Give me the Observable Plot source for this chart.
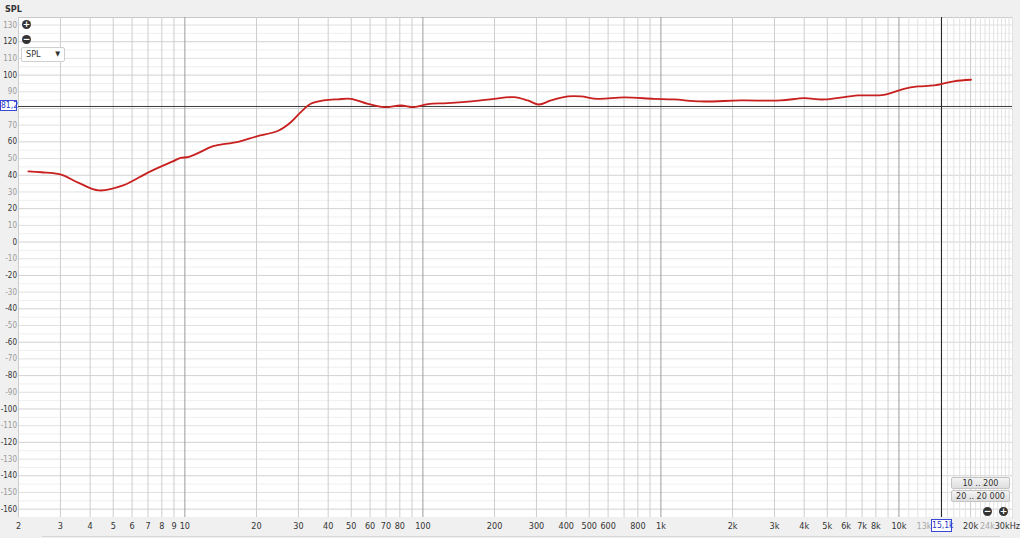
<!DOCTYPE html>
<html><head><meta charset="utf-8">
<script src="https://cdn.jsdelivr.net/npm/d3@7"></script>
<script src="https://cdn.jsdelivr.net/npm/@observablehq/plot@0.6"></script>
<style>
html,body{margin:0;padding:0;background:#f0f0f0;}
#wrap{position:relative;width:1020px;height:538px;overflow:hidden;font-family:"Liberation Sans Narrow","DejaVu Sans Condensed","Noto Sans",sans-serif;color:#333;}
#wrap svg{position:absolute;left:0;top:0;}
.ov{position:absolute;box-sizing:border-box;}
.title{left:5px;top:4px;font-size:9px;font-weight:bold;color:#333;}
.icon{width:9px;height:9px;border-radius:50%;background:#333;color:#fff;font:bold 9px/9px "DejaVu Sans",sans-serif;text-align:center;}
.dd{left:21px;top:47px;width:44px;height:15px;background:#fff;border:1px solid #cfcfcf;border-radius:2px;font-size:9px;line-height:13px;padding-left:4px;}
.dd span{position:absolute;right:4px;top:0;font-size:7px;}
.btn{left:951px;width:59px;height:12px;background:linear-gradient(#f4f4f4,#dedede);border:1px solid #c4c4c4;border-radius:2px;font-size:9px;line-height:10px;text-align:center;color:#333;}
.cur{border:1px solid #3b47d6;background:#fff;color:#2a36c8;font-size:8.5px;text-align:center;white-space:nowrap;}
</style></head><body><div id="wrap"></div>
<script>
// ---- data ----
const freqHz = [2.2, 2.5, 3.0, 3.6, 4.35, 5.5, 7.06, 8.9, 9.6, 10.4, 12.9, 13.5, 16.9, 19.9, 24.8, 27.8, 30.7, 33.8, 38.4, 44, 49.8, 58.7, 68.6, 80.8, 91.7, 105, 127, 164, 199, 241, 276, 307, 345, 407, 461, 543, 700, 935, 1135, 1473, 2168, 3192, 3990, 4842, 6730, 8650, 10500, 12020, 14030, 17020, 20090];
const splDb  = [42.3, 41.8, 40.5, 35.3, 30.9, 33.9, 41.9, 48.3, 50.4, 51.0, 57.0, 57.8, 60.2, 63.2, 66.8, 71.6, 77.8, 82.8, 84.8, 85.5, 85.8, 82.8, 80.8, 81.8, 80.8, 82.6, 83.2, 84.4, 85.8, 86.8, 84.8, 82.4, 84.8, 87.2, 87.2, 85.8, 86.6, 85.8, 85.4, 84.2, 84.8, 84.8, 86.2, 85.4, 87.8, 88.2, 91.8, 93.2, 93.8, 96.3, 97.2];

const yTicksDark  = [120, 100, 60, 40, 20, 0, -20, -40, -60, -80, -100, -120, -140, -160];
const yTicksLight = [130, 110, 90, 70, 50, 30, 10, -10, -30, -50, -70, -90, -110, -130, -150];
const xTicks      = [2, 3, 4, 5, 6, 7, 8, 9, 10, 20, 30, 40, 50, 60, 70, 80, 100, 200, 300, 400, 500, 600, 800, 1000, 2000, 3000, 4000, 5000, 6000, 7000, 8000, 10000, 20000];
const xTicksGray  = [13000, 24000];
const xTickLast   = [30000];
const xGridDecade = [10, 100, 1000, 10000];
const xGridMinor  = [2,3,4,5,6,7,8,9, 20,30,40,50,60,70,80,90, 200,300,400,500,600,700,800,900, 2000,3000,4000,5000,6000,7000,8000,9000, 20000];
const xGridFine   = [11000,12000,13000,14000,15000,16000,17000,18000,19000,21000,22000,23000,24000,25000,26000,27000,28000,29000,30000];
const yGrid20 = d3.range(-160, 131, 20);
const yGrid10 = d3.range(-150, 131, 20);
const yGrid5  = d3.range(-165, 131, 10);
const cursorLevel = 81.2, cursorLevelLabel = "81,2";
const cursorFreq = 15100, cursorFreqLabel = "15,1k";
const buttonLabels = ["10 .. 200", "20 .. 20 000"];

const data = freqHz.map((f, i) => ({f, spl: splDb[i]}));
const fmt = v => v === 30000 ? "30kHz" : v >= 1000 ? (v / 1000) + "k" : String(v);
const font = '"Liberation Sans Narrow","DejaVu Sans Condensed","Noto Sans",sans-serif';

const yText = (ticks, fill) => Plot.text(ticks, {y: d => d, text: d => String(d), frameAnchor: "left", dx: -1.5, textAnchor: "end", fill, fontSize: 8});
const xText = (ticks, fill, opts = {}) => Plot.text(ticks, {x: d => d, text: fmt, frameAnchor: "bottom", dy: 9, lineAnchor: "middle", fill, fontSize: 9, ...opts});

const chart = Plot.plot({
  width: 1020, height: 538,
  marginTop: 17, marginBottom: 21, marginLeft: 18, marginRight: 8,
  style: {background: "transparent", fontFamily: font, fontSize: "9px", overflow: "visible"},
  x: {type: "log", domain: [2, 30000], axis: null},
  y: {domain: [-165, 134.5], axis: null},
  marks: [
    Plot.frame({fill: "white", stroke: "#c8c8c8"}),
    Plot.ruleY(yGrid5, {stroke: "#efefef"}),
    Plot.ruleY(yGrid10, {stroke: "#e0e0e0"}),
    Plot.ruleY(yGrid20, {stroke: "#d2d2d2"}),
    Plot.ruleX(xGridFine, {stroke: "#e2e2e2"}),
    Plot.ruleX(xGridMinor, {stroke: "#cdcdcd"}),
    Plot.ruleX(xGridDecade, {stroke: "#9c9c9c"}),
    Plot.ruleY([cursorLevel], {stroke: "#3c3c3c"}),
    Plot.ruleX([cursorFreq], {stroke: "#222"}),
    Plot.line(data, {x: "f", y: "spl", stroke: "#c8201e", strokeWidth: 1.8, curve: "catmull-rom"}),
    yText(yTicksDark, "#333"),
    yText(yTicksLight, "#9a9a9a"),
    xText(xTicks, "#333"),
    xText(xTicksGray, "#a8a8a8", {dx: -2}),
    xText(xTickLast, "#333", {textAnchor: "end", dx: 7.5})
  ]
});

const wrap = document.getElementById("wrap");
wrap.appendChild(chart);
const sx = chart.scale("x"), sy = chart.scale("y");

function ov(cls, style, html) {
  const d = document.createElement("div");
  d.className = "ov " + cls;
  Object.assign(d.style, style);
  d.innerHTML = html;
  wrap.appendChild(d);
  return d;
}
ov("title", {}, "SPL");
ov("icon", {left: "22px", top: "20px"}, "+");
ov("icon", {left: "22px", top: "35px"}, "&minus;");
ov("dd", {}, "SPL<span>&#9660;</span>");
ov("btn", {top: "477px"}, buttonLabels[0]);
ov("btn", {top: "490px"}, buttonLabels[1]);
ov("icon", {left: "983px", top: "507px"}, "&minus;");
ov("icon", {left: "999px", top: "507px"}, "+");
const cy = sy.apply(cursorLevel);
ov("cur", {left: "0px", top: (cy - 5.5) + "px", width: "17px", height: "11px", lineHeight: "9px"}, cursorLevelLabel);
const cx = sx.apply(cursorFreq);
ov("cur", {left: (cx - 10) + "px", top: "519px", width: "21px", height: "13px", lineHeight: "11px"}, cursorFreqLabel);
ov("", {left: "42px", top: "536px", width: "958px", height: "1px", background: "#d6d6d6"}, "");
</script></body></html>
